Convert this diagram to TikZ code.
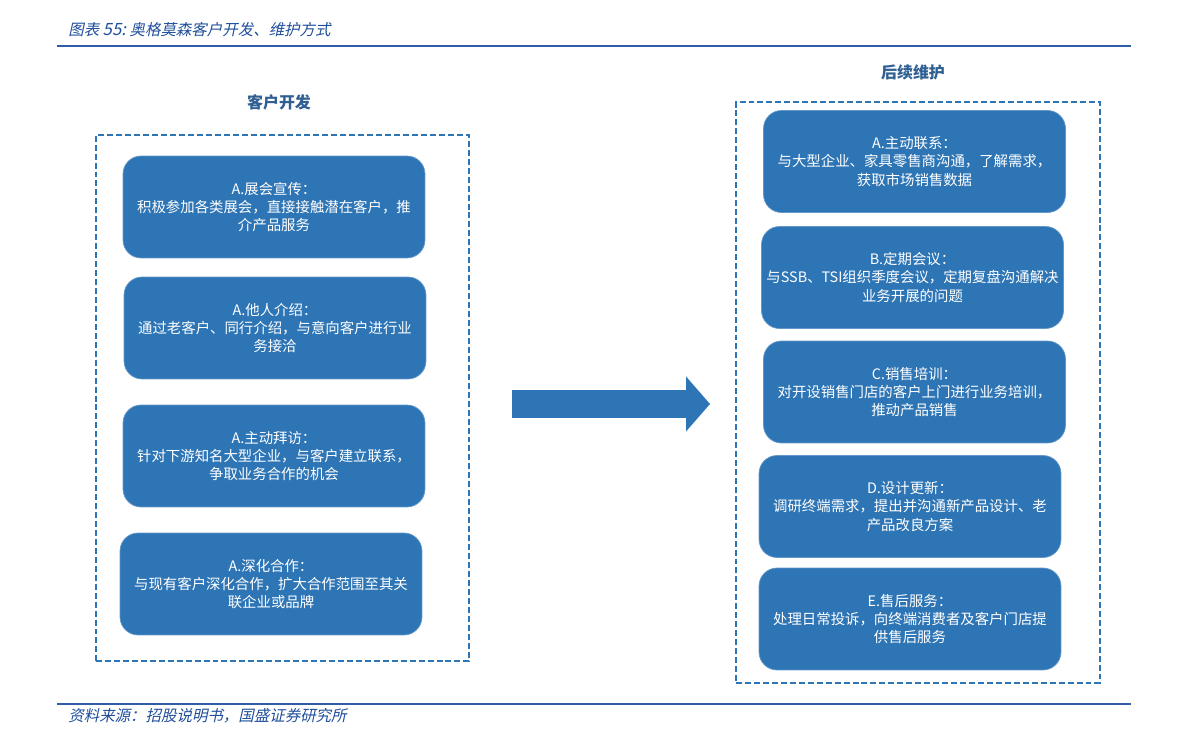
\documentclass[tikz,border=0pt]{standalone}
\usepackage{fontspec}
\setmainfont{Noto Sans CJK SC}
\newfontfamily\cjkslant{Noto Sans CJK SC}[FakeSlant=0.22]
\usetikzlibrary{arrows.meta,positioning}

\definecolor{boxblue}{HTML}{2E75B6}
\definecolor{ruleblue}{HTML}{2F5DA6}
\definecolor{capblue}{HTML}{1F4E9A}
\definecolor{headblue}{HTML}{2F5F93}

\begin{document}
\begin{tikzpicture}[
    x=0.02cm, y=-0.02cm,
    card/.style={fill=boxblue, draw=boxblue!75!white, line width=0.4pt, rounded corners=0.36cm,
                 minimum width=6.04cm, minimum height=2.04cm, align=center, text=white,
                 font=\fontsize{8.2pt}{10.4pt}\selectfont, inner sep=0pt},
    frame/.style={draw=boxblue, dashed, dash pattern=on 3.4pt off 1.7pt, line width=1.1pt},
    head/.style={font=\bfseries\fontsize{9.1pt}{11pt}\selectfont, text=headblue},
    note/.style={font=\cjkslant\fontsize{8.8pt}{11pt}\selectfont, text=capblue, anchor=west, inner sep=0pt},
    bigarr/.style={boxblue, line width=0.56cm,
                   -{Triangle[length=0.48cm, width=1.1cm, line width=0pt 0 0]}},
]
  \useasboundingbox (0,0) rectangle (1191,742);

  % caption and rules
  \node[note] (cap) at (68,30) {图表 {\fontsize{9.6pt}{11pt}\selectfont 55:}\ 奥格莫森客户开发、维护方式};
  \draw[ruleblue, line width=1.6pt] (57,46) -- (1131,46);
  \draw[ruleblue, line width=1.6pt] (57,704) -- (1131,704);
  \node[note] (src) at (68,716) {资料来源：招股说明书，国盛证券研究所};

  % left side
  \node[frame, minimum width=7.46cm, minimum height=10.52cm] (devframe) at (282.5,398) {};
  \node[head] (devhead) at (279,102) {客户开发};
  \node[card] (expo)  at (274,207) {A.展会宣传：\\积极参加各类展会，直接接触潜在客户，推\\介产品服务};
  \node[card] (refer) at (275,328) {A.他人介绍：\\通过老客户、同行介绍，与意向客户进行业\\务接洽};
  \node[card] (visit) at (274,456) {A.主动拜访：\\针对下游知名大型企业，与客户建立联系，\\争取业务合作的机会};
  \node[card] (deep)  at (271,584) {A.深化合作：\\与现有客户深化合作，扩大合作范围至其关\\联企业或品牌};

  % right side
  \node[frame, minimum width=7.28cm, minimum height=11.62cm] (mntframe) at (918,392.5) {};
  \node[head] (mnthead) at (913,72) {后续维护};
  \node[card] (contact) at (914.5,161.5) {A.主动联系：\\与大型企业、家具零售商沟通，了解需求，\\获取市场销售数据};
  \node[card] (meet)    at (912.5,277.5) {B.定期会议：\\与SSB、TSI组织季度会议，定期复盘沟通解决\\业务开展的问题};
  \node[card] (train)   at (914.5,392)   {C.销售培训：\\对开设销售门店的客户上门进行业务培训，\\推动产品销售};
  \node[card] (design)  at (910,506.5)   {D.设计更新：\\调研终端需求，提出并沟通新产品设计、老\\产品改良方案};
  \node[card] (service) at (910,619)     {E.售后服务：\\处理日常投诉，向终端消费者及客户门店提\\供售后服务};

  % big arrow
  \coordinate (arrs) at (512,404);
  \coordinate (arre) at (710,404);
  \draw[bigarr] (arrs) -- (arre);
\end{tikzpicture}
\end{document}
